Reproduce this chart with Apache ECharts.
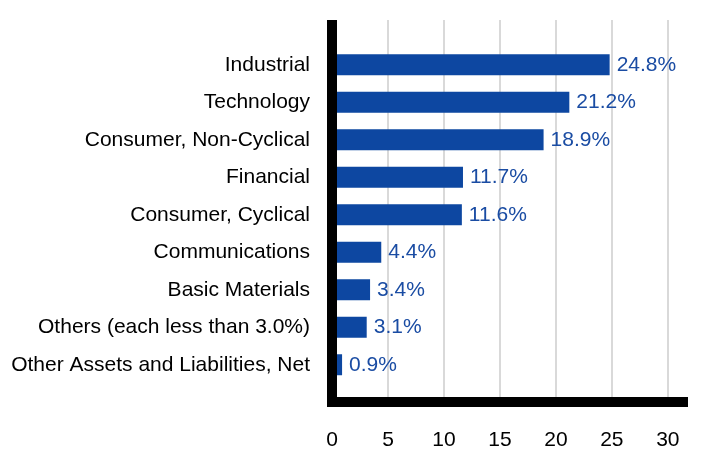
<!DOCTYPE html>
<html><head><meta charset="utf-8">
<script src="https://cdn.jsdelivr.net/npm/echarts@6/dist/echarts.min.js"></script>
<style>html,body{margin:0;padding:0;background:#fff}#c{width:720px;height:468px}</style>
</head><body><div id="c"></div>
<script>
const categories = ["Industrial","Technology","Consumer, Non-Cyclical","Financial","Consumer, Cyclical","Communications","Basic Materials","Others (each less than 3.0%)","Other Assets and Liabilities, Net"];
const values = [24.8,21.2,18.9,11.7,11.6,4.4,3.4,3.1,0.9];
const xMin = 0, xMax = 31.8, xInterval = 5;

const chart = echarts.init(document.getElementById('c'), null, {renderer:'canvas'});
const font = '"Liberation Sans", Arial, sans-serif';
chart.setOption({
  animation:false,
  grid:[
    {left:332,right:32,top:20,bottom:66},
    {left:332,right:32,top:46,bottom:84.5},
    {left:327,right:32,top:20,bottom:61}
  ],
  xAxis:[
    {gridIndex:0,type:'value',min:xMin,max:xMax,interval:xInterval,
     axisLine:{show:false},
     axisTick:{show:false},
     axisLabel:{color:'#000',fontSize:21,fontFamily:font,margin:28,showMaxLabel:false},
     splitLine:{show:true,showMaxLine:false,showMinLine:false,lineStyle:{color:'#d9d9d9',width:2}}},
    {gridIndex:1,type:'value',min:xMin,max:xMax,show:false,splitLine:{show:false}},
    {gridIndex:2,type:'value',min:0,max:1,z:5,offset:-5,
     axisLine:{show:true,lineStyle:{color:'#000',width:10,cap:'butt'}},
     axisTick:{show:false},axisLabel:{show:false},splitLine:{show:false}}
  ],
  yAxis:[
    {gridIndex:0,type:'value',min:0,max:1,show:false,splitLine:{show:false}},
    {gridIndex:1,type:'category',data:categories,inverse:true,
     axisLine:{show:false},axisTick:{show:false},
     axisLabel:{color:'#000',fontSize:21,fontFamily:font,margin:22}},
    {gridIndex:2,type:'value',min:0,max:1,z:5,offset:-5,
     axisLine:{show:true,lineStyle:{color:'#000',width:10,cap:'butt'}},
     axisTick:{show:false},axisLabel:{show:false},splitLine:{show:false}}
  ],
  series:[{
    type:'bar',xAxisIndex:1,yAxisIndex:1,data:values,barWidth:21,
    itemStyle:{color:'#0D47A1'},
    label:{show:true,position:'right',distance:7,formatter:'{c}%',color:'#1A4CA3',fontSize:21,fontFamily:font}
  }]
});
</script></body></html>
